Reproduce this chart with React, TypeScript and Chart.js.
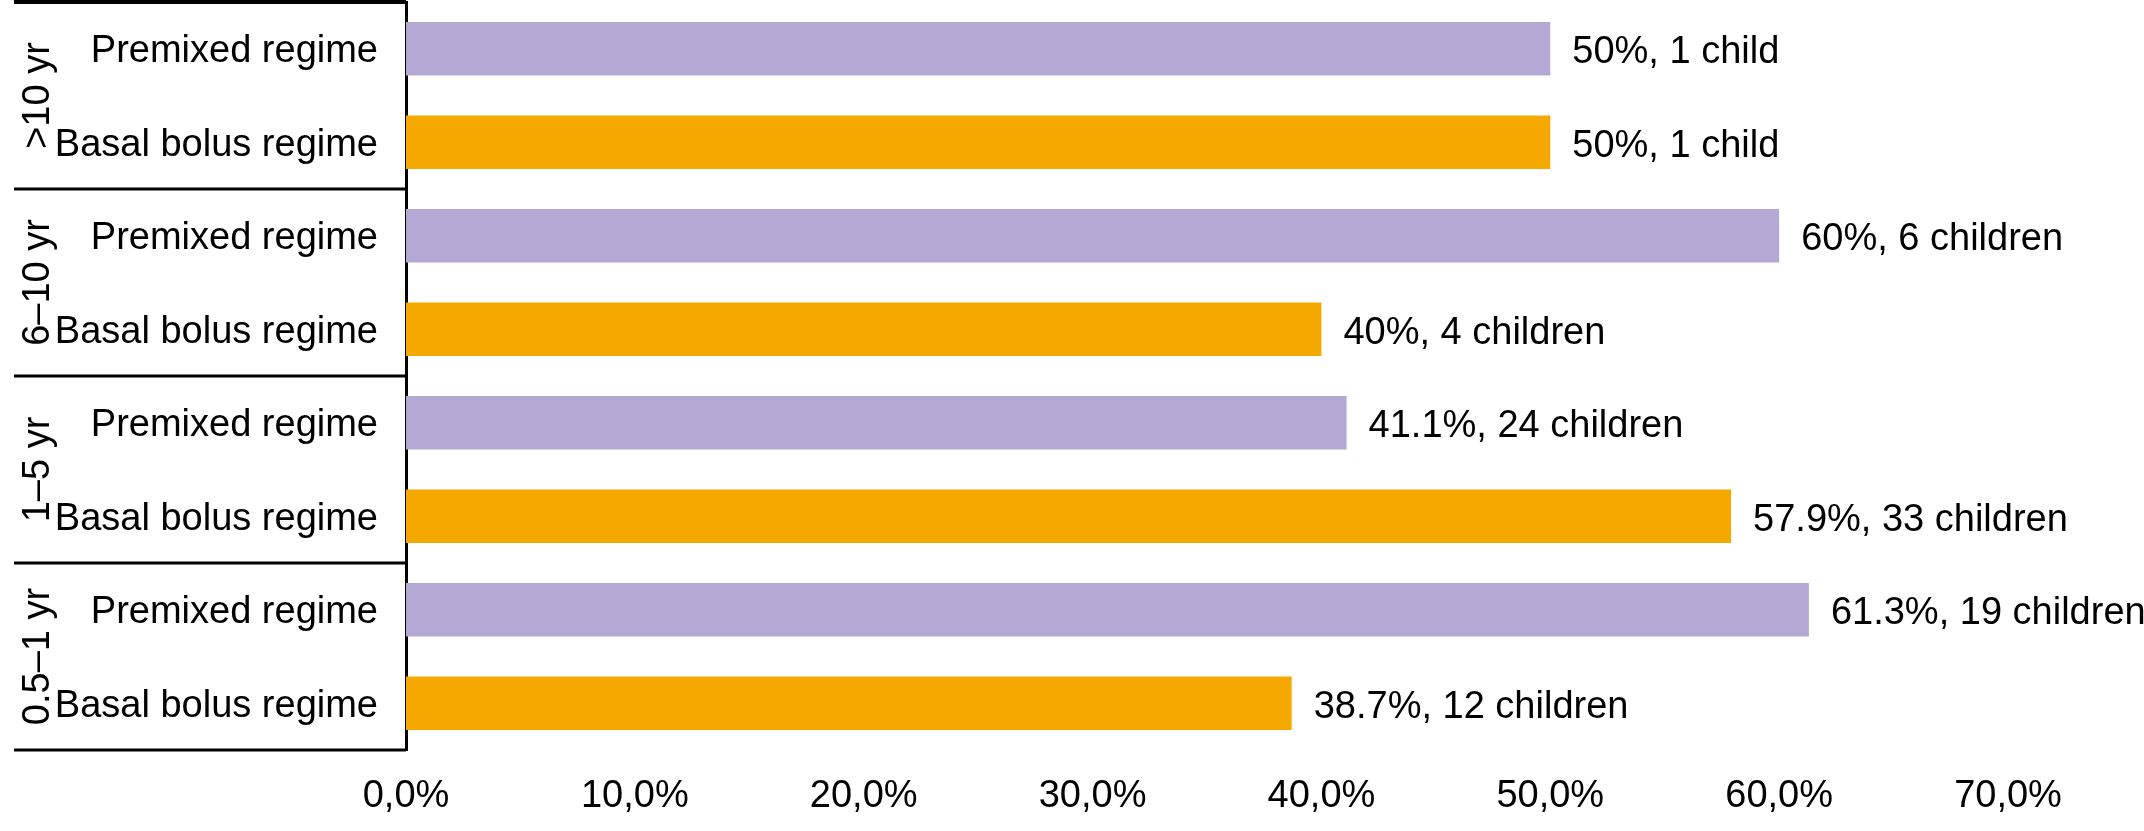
import React, { useEffect, useRef } from "react";
import { Chart, registerables } from "chart.js";

Chart.register(...registerables);

// age groups, top to bottom
const ageGroups = [">10 yr", "6–10 yr", "1–5 yr", "0.5–1 yr"];
const regimes = ["Premixed regime", "Basal bolus regime"];
const premixedPct = [50, 60, 41.1, 61.3];
const basalPct = [50, 40, 57.9, 38.7];
const premixedCount = [1, 6, 24, 19];
const basalCount = [1, 4, 33, 12];
const xMax = 70;
const xStep = 10;

const PURPLE = "#b3a9d4";
const ORANGE = "#f5a800";
const FONT = "'Liberation Sans', Arial, sans-serif";
const FONT_SIZE = 38;

// one row per bar
const rowLabels: string[] = [];
const rowValues: number[] = [];
const rowCounts: number[] = [];
const rowColors: string[] = [];
ageGroups.forEach((_, g) => {
  rowLabels.push(regimes[0], regimes[1]);
  rowValues.push(premixedPct[g], basalPct[g]);
  rowCounts.push(premixedCount[g], basalCount[g]);
  rowColors.push(PURPLE, ORANGE);
});

const groupBoxes = {
  id: "groupBoxes",
  afterDraw(chart: any) {
    const { ctx } = chart;
    const y = chart.scales.y;
    const p0 = y.getPixelForValue(0);
    const step = y.getPixelForValue(1) - p0;
    const edge = (k: number) => p0 + (k - 0.5) * step;
    const right = chart.chartArea.left;
    ctx.save();
    ctx.strokeStyle = "#000";
    for (let g = 0; g <= ageGroups.length; g++) {
      let yy = edge(g * 2);
      ctx.lineWidth = 3;
      if (g === 0) {
        ctx.lineWidth = 4;
        yy = Math.max(yy, 2);
      }
      ctx.beginPath();
      ctx.moveTo(14, yy);
      ctx.lineTo(right, yy);
      ctx.stroke();
    }
    ctx.fillStyle = "#000";
    ctx.font = `${FONT_SIZE}px ${FONT}`;
    ctx.textAlign = "center";
    ctx.textBaseline = "middle";
    ageGroups.forEach((name, g) => {
      const cy = edge(g * 2) + step;
      ctx.save();
      ctx.translate(39, cy);
      ctx.rotate(-Math.PI / 2);
      ctx.fillText(name, 0, 0);
      ctx.restore();
    });
    ctx.restore();
  },
};

const valueLabels = {
  id: "valueLabels",
  afterDatasetsDraw(chart: any) {
    const { ctx } = chart;
    const meta = chart.getDatasetMeta(0);
    ctx.save();
    ctx.fillStyle = "#000";
    ctx.font = `${FONT_SIZE}px ${FONT}`;
    ctx.textAlign = "left";
    ctx.textBaseline = "middle";
    meta.data.forEach((bar: any, i: number) => {
      const n = rowCounts[i];
      const text = `${rowValues[i]}%, ${n} ${n === 1 ? "child" : "children"}`;
      ctx.fillText(text, bar.x + 22, bar.y + 4);
    });
    ctx.restore();
  },
};

const App: React.FC = () => {
  const canvasRef = useRef<HTMLCanvasElement | null>(null);

  useEffect(() => {
    if (!canvasRef.current) return;
    const ctx = canvasRef.current.getContext("2d");
    if (!ctx) return;

    const chart = new Chart(ctx, {
      type: "bar",
      data: {
        labels: rowLabels,
        datasets: [
          {
            data: rowValues,
            backgroundColor: rowColors,
            categoryPercentage: 1,
            barPercentage: 0.57,
          },
        ],
      },
      options: {
        indexAxis: "y",
        responsive: true,
        maintainAspectRatio: false,
        animation: false,
        layout: { padding: { top: 2, right: 136, left: 0, bottom: 0 } },
        plugins: {
          legend: { display: false },
          tooltip: { enabled: false },
        },
        scales: {
          x: {
            min: 0,
            max: xMax,
            ticks: {
              stepSize: xStep,
              color: "#000",
              padding: 16,
              font: { family: FONT, size: FONT_SIZE },
              callback: (v: any) => Number(v).toFixed(1).replace(".", ",") + "%",
            },
            grid: { display: false },
            border: { display: false },
            afterFit: (s: any) => {
              s.height = 81;
            },
          },
          y: {
            ticks: {
              color: "#000",
              padding: 20,
              labelOffset: 3,
              font: { family: FONT, size: FONT_SIZE },
            },
            grid: { display: false },
            border: { display: true, color: "#000", width: 3 },
            afterFit: (s: any) => {
              s.width = 406;
              s.paddingTop = 0;
              s.paddingBottom = 0;
            },
          },
        },
      },
      plugins: [groupBoxes, valueLabels],
    });

    return () => {
      chart.destroy();
    };
  }, []);

  return (
    <div style={{ position: "absolute", left: 0, top: 0, width: 2144, height: 831, background: "#fff" }}>
      <canvas ref={canvasRef}></canvas>
    </div>
  );
};

export default App;
